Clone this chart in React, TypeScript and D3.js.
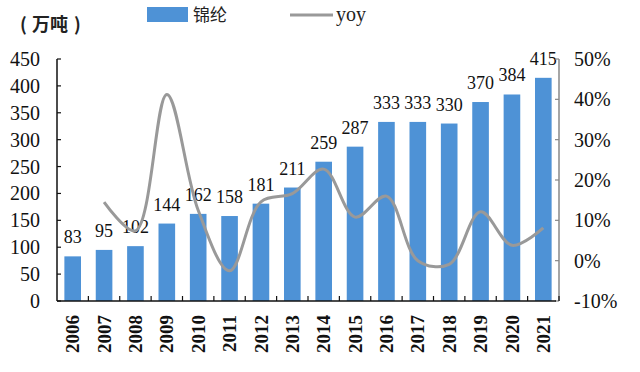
import React from "react";
import * as d3 from "d3";

const years = ["2006","2007","2008","2009","2010","2011","2012","2013","2014","2015","2016","2017","2018","2019","2020","2021"];
const output = [83, 95, 102, 144, 162, 158, 181, 211, 259, 287, 333, 333, 330, 370, 384, 415];
const yoyYears = ["2007","2008","2009","2010","2011","2012","2013","2014","2015","2016","2017","2018","2019","2020","2021"];
const yoy = [14.5, 7.4, 41.2, 12.5, -2.5, 14.6, 16.6, 22.7, 10.8, 16.0, 0.0, -0.9, 12.1, 3.8, 8.1];
const leftTicks = [0, 50, 100, 150, 200, 250, 300, 350, 400, 450];
const rightTicks = [-10, 0, 10, 20, 30, 40, 50];

const W = 640, H = 372;
const L = 57, R = 559, T = 59, B = 301;
const serif = "'Liberation Serif', 'Times New Roman', serif";
const cjk = "'Noto Sans CJK SC', sans-serif";
const barColor = "#4E92D6";
const lineColor = "#999999";

export default function App() {
  const x = d3.scaleBand<string>().domain(years).range([L, R]).paddingInner(0.47).paddingOuter(0.235);
  const yL = d3.scaleLinear().domain([0, 450]).range([B, T]);
  const yR = d3.scaleLinear().domain([-10, 50]).range([B, T]);
  const cx = (yr: string) => (x(yr) as number) + x.bandwidth() / 2;
  const step = (R - L) / years.length;
  const line = d3.line<number>()
    .x((_, i) => cx(yoyYears[i]))
    .y((d) => yR(d))
    .curve(d3.curveCatmullRom.alpha(0.5));

  return (
    <svg width={W} height={H} style={{ position: "absolute", left: 0, top: 0, background: "#fff" }}>
      {/* legend */}
      <text x={20} y={31} fontSize={18} fontWeight="bold" fontFamily={cjk} fill="#222">(</text>
      <text x={32} y={31} fontSize={18} fontWeight="bold" fontFamily={cjk} fill="#222">万吨</text>
      <text x={74} y={31} fontSize={18} fontWeight="bold" fontFamily={cjk} fill="#222">)</text>
      <rect x={147} y={7} width={41} height={15} fill={barColor} />
      <text x={193} y={21} fontSize={17} fontFamily={cjk} fill="#222">锦纶</text>
      <line x1={290} x2={333} y1={15} y2={15} stroke={lineColor} strokeWidth={3} />
      <text x={336} y={21} fontSize={20} fontFamily={serif} fill="#222">yoy</text>

      {/* bars */}
      {years.map((yr, i) => (
        <rect key={yr} x={x(yr)} y={yL(output[i])} width={x.bandwidth()} height={B - yL(output[i])} fill={barColor} />
      ))}
      {/* value labels */}
      {years.map((yr, i) => (
        <text key={"v" + yr} x={cx(yr)} y={yL(output[i]) - 13} textAnchor="middle" fontSize={18} fontFamily={serif} fill="#111">{output[i]}</text>
      ))}

      {/* yoy line */}
      <path d={line(yoy) || ""} fill="none" stroke={lineColor} strokeWidth={3} />

      {/* left axis */}
      <line x1={L} x2={L} y1={T} y2={B} stroke="#111" strokeWidth={1.5} />
      {leftTicks.map((t) => (
        <g key={"l" + t}>
          <line x1={L} x2={L + 4} y1={yL(t)} y2={yL(t)} stroke="#111" strokeWidth={1.2} />
          <text x={40} y={yL(t)} dy="0.35em" textAnchor="end" fontSize={20} fontFamily={serif} fill="#111">{t}</text>
        </g>
      ))}
      {/* right axis */}
      <line x1={R} x2={R} y1={T} y2={B} stroke="#888" strokeWidth={1.5} />
      {rightTicks.map((t) => (
        <g key={"r" + t}>
          <line x1={R - 4} x2={R} y1={yR(t)} y2={yR(t)} stroke="#888" strokeWidth={1.2} />
          <text x={574} y={yR(t)} dy="0.35em" textAnchor="start" fontSize={20} fontFamily={serif} fill="#111">{t}%</text>
        </g>
      ))}
      {/* x axis */}
      <line x1={L} x2={R - 3} y1={B} y2={B} stroke="#111" strokeWidth={1.5} />
      {years.map((yr, i) => (
        <line key={"xt" + yr} x1={L + step * (i + 1)} x2={L + step * (i + 1)} y1={B} y2={B - 5} stroke="#111" strokeWidth={1.2} />
      ))}
      {years.map((yr) => (
        <text key={"xl" + yr} transform={`translate(${cx(yr)},315) rotate(-90)`} dy="0.35em" textAnchor="end" fontSize={19} fontWeight="bold" fontFamily={serif} fill="#111">{yr}</text>
      ))}
    </svg>
  );
}
